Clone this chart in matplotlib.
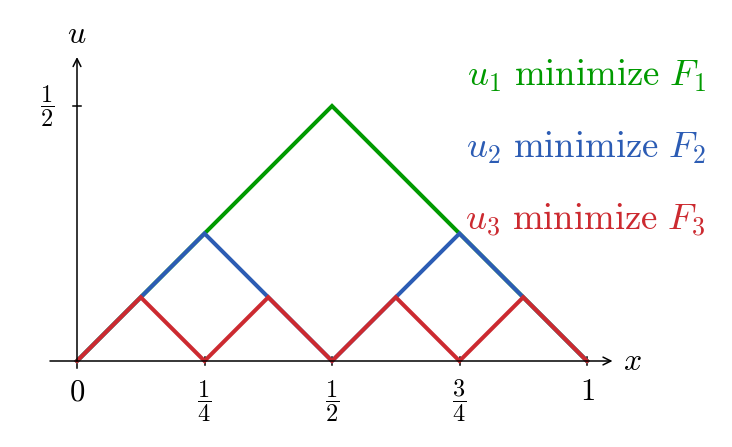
import numpy as np
import matplotlib.pyplot as plt

plt.rcParams['mathtext.fontset'] = 'cm'

# polyline vertices of each minimizer
x1 = [0, 0.5, 1]
u1 = [0, 0.5, 0]
x2 = [0, 0.25, 0.5, 0.75, 1]
u2 = [0, 0.25, 0, 0.25, 0]
x3 = [0, 0.125, 0.25, 0.375, 0.5, 0.625, 0.75, 0.875, 1]
u3 = [0, 0.125, 0, 0.125, 0, 0.125, 0, 0.125, 0]

xticks = [0, 0.25, 0.5, 0.75, 1]
xticklabels = ['$0$', r'$\dfrac{1}{4}$', r'$\dfrac{1}{2}$', r'$\dfrac{3}{4}$', '$1$']

green = '#009a00'
blue = '#2c5cb4'
red = '#cc2a30'

fig = plt.figure(figsize=(7.32, 4.47), dpi=100)
ax = fig.add_axes([0, 0, 1, 1])
ax.set_xlim(-77 / 510, (732 - 77) / 510)
ax.set_ylim((361 - 447) / 510, 361 / 510)
ax.axis('off')

# axes
ax.annotate('', xy=(1.05, 0), xytext=(-0.053, 0),
            arrowprops=dict(arrowstyle='->', lw=1.1, color='black', shrinkA=0, shrinkB=0,
                            mutation_scale=14))
ax.annotate('', xy=(0, 0.596), xytext=(0, 0),
            arrowprops=dict(arrowstyle='->', lw=1.1, color='black', shrinkA=0, shrinkB=0,
                            mutation_scale=14))
ax.text(1.088, 0, '$x$', fontsize=23, ha='center', va='center')
ax.text(0, 0.641, '$u$', fontsize=23, ha='center', va='center')

for xt, lab in zip(xticks, xticklabels):
    ax.plot([xt, xt], [-0.014 if xt == 0 else -0.008, 0.008 if xt > 0 else 0],
            color='black', lw=1.1)
    if xt in (0, 1):
        ax.text(xt, -0.06, lab, fontsize=22, ha='center', va='center')
    else:
        ax.text(xt, -0.078, lab, fontsize=17.5, ha='center', va='center')

ax.plot([-0.008, 0.008], [0.5, 0.5], color='black', lw=1.1)
ax.text(-0.059, 0.5, r'$\dfrac{1}{2}$', fontsize=17.5, ha='center', va='center')

ax.plot(x1, u1, color=green, lw=2.9, solid_joinstyle='miter')
ax.plot(x2, u2, color=blue, lw=2.9, solid_joinstyle='miter')
ax.plot(x3, u3, color=red, lw=2.9, solid_joinstyle='miter')

ax.text(1.233, 0.559, r'$u_1\ \mathrm{minimize}\ F_1$', color=green, fontsize=26.5,
        ha='right', va='center')
ax.text(1.233, 0.418, r'$u_2\ \mathrm{minimize}\ F_2$', color=blue, fontsize=26.5,
        ha='right', va='center')
ax.text(1.233, 0.276, r'$u_3\ \mathrm{minimize}\ F_3$', color=red, fontsize=26.5,
        ha='right', va='center')

fig.savefig('out.png', dpi=100)
